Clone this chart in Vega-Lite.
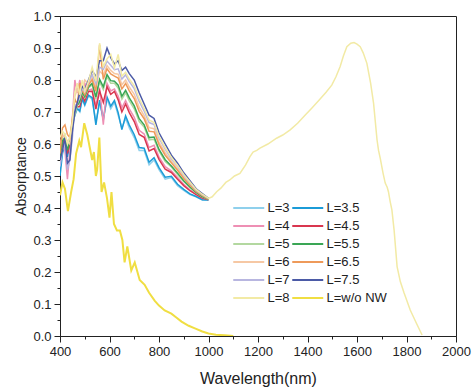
{
"$schema":"https://vega.github.io/schema/vega-lite/v6.json",
"width":396,"height":320,
"autosize":{"type":"none"},
"padding":{"left":60,"top":16,"right":16,"bottom":53},
"background":"white",
"config":{"view":{"stroke":"#222","strokeWidth":1},"font":"Liberation Sans"},
"data":{"values":[
{"s":"3","x":400,"y":0.52},{"s":"3","x":410,"y":0.58},{"s":"3","x":420,"y":0.61},{"s":"3","x":430,"y":0.57},{"s":"3","x":440,"y":0.60},{"s":"3","x":450,"y":0.65},{"s":"3","x":460,"y":0.70},{"s":"3","x":470,"y":0.71},{"s":"3","x":480,"y":0.70},{"s":"3","x":490,"y":0.74},{"s":"3","x":500,"y":0.72},{"s":"3","x":515,"y":0.75},{"s":"3","x":530,"y":0.74},{"s":"3","x":545,"y":0.67},{"s":"3","x":560,"y":0.73},{"s":"3","x":575,"y":0.68},{"s":"3","x":590,"y":0.74},{"s":"3","x":605,"y":0.71},{"s":"3","x":620,"y":0.73},{"s":"3","x":635,"y":0.69},{"s":"3","x":650,"y":0.65},{"s":"3","x":665,"y":0.68},{"s":"3","x":680,"y":0.65},{"s":"3","x":700,"y":0.62},{"s":"3","x":720,"y":0.58},{"s":"3","x":740,"y":0.58},{"s":"3","x":760,"y":0.535},{"s":"3","x":780,"y":0.55},{"s":"3","x":800,"y":0.52},{"s":"3","x":825,"y":0.49},{"s":"3","x":850,"y":0.495},{"s":"3","x":875,"y":0.47},{"s":"3","x":900,"y":0.455},{"s":"3","x":925,"y":0.442},{"s":"3","x":950,"y":0.435},{"s":"3","x":975,"y":0.425},{"s":"3","x":1000,"y":0.425},
{"s":"3.5","x":400,"y":0.50},{"s":"3.5","x":410,"y":0.57},{"s":"3.5","x":420,"y":0.60},{"s":"3.5","x":430,"y":0.56},{"s":"3.5","x":440,"y":0.60},{"s":"3.5","x":450,"y":0.66},{"s":"3.5","x":460,"y":0.69},{"s":"3.5","x":470,"y":0.711},{"s":"3.5","x":480,"y":0.703},{"s":"3.5","x":490,"y":0.742},{"s":"3.5","x":500,"y":0.723},{"s":"3.5","x":515,"y":0.753},{"s":"3.5","x":530,"y":0.745},{"s":"3.5","x":545,"y":0.66},{"s":"3.5","x":560,"y":0.737},{"s":"3.5","x":575,"y":0.675},{"s":"3.5","x":590,"y":0.747},{"s":"3.5","x":605,"y":0.718},{"s":"3.5","x":620,"y":0.736},{"s":"3.5","x":635,"y":0.698},{"s":"3.5","x":650,"y":0.645},{"s":"3.5","x":665,"y":0.688},{"s":"3.5","x":680,"y":0.659},{"s":"3.5","x":700,"y":0.629},{"s":"3.5","x":720,"y":0.589},{"s":"3.5","x":740,"y":0.587},{"s":"3.5","x":760,"y":0.543},{"s":"3.5","x":780,"y":0.557},{"s":"3.5","x":800,"y":0.526},{"s":"3.5","x":825,"y":0.496},{"s":"3.5","x":850,"y":0.499},{"s":"3.5","x":875,"y":0.474},{"s":"3.5","x":900,"y":0.458},{"s":"3.5","x":925,"y":0.444},{"s":"3.5","x":950,"y":0.436},{"s":"3.5","x":975,"y":0.426},{"s":"3.5","x":1000,"y":0.425},
{"s":"4","x":400,"y":0.55},{"s":"4","x":410,"y":0.60},{"s":"4","x":420,"y":0.58},{"s":"4","x":430,"y":0.49},{"s":"4","x":440,"y":0.58},{"s":"4","x":450,"y":0.68},{"s":"4","x":460,"y":0.80},{"s":"4","x":470,"y":0.76},{"s":"4","x":480,"y":0.80},{"s":"4","x":490,"y":0.754},{"s":"4","x":500,"y":0.79},{"s":"4","x":515,"y":0.768},{"s":"4","x":530,"y":0.772},{"s":"4","x":545,"y":0.719},{"s":"4","x":560,"y":0.776},{"s":"4","x":575,"y":0.66},{"s":"4","x":590,"y":0.789},{"s":"4","x":605,"y":0.766},{"s":"4","x":620,"y":0.772},{"s":"4","x":635,"y":0.75},{"s":"4","x":650,"y":0.713},{"s":"4","x":665,"y":0.736},{"s":"4","x":680,"y":0.71},{"s":"4","x":700,"y":0.683},{"s":"4","x":720,"y":0.643},{"s":"4","x":740,"y":0.631},{"s":"4","x":760,"y":0.589},{"s":"4","x":780,"y":0.596},{"s":"4","x":800,"y":0.56},{"s":"4","x":825,"y":0.529},{"s":"4","x":850,"y":0.516},{"s":"4","x":875,"y":0.495},{"s":"4","x":900,"y":0.474},{"s":"4","x":925,"y":0.457},{"s":"4","x":950,"y":0.444},{"s":"4","x":975,"y":0.432},{"s":"4","x":1000,"y":0.427},
{"s":"4.5","x":400,"y":0.54},{"s":"4.5","x":410,"y":0.60},{"s":"4.5","x":420,"y":0.62},{"s":"4.5","x":430,"y":0.57},{"s":"4.5","x":440,"y":0.60},{"s":"4.5","x":450,"y":0.66},{"s":"4.5","x":460,"y":0.72},{"s":"4.5","x":470,"y":0.716},{"s":"4.5","x":480,"y":0.717},{"s":"4.5","x":490,"y":0.751},{"s":"4.5","x":500,"y":0.734},{"s":"4.5","x":515,"y":0.764},{"s":"4.5","x":530,"y":0.765},{"s":"4.5","x":545,"y":0.709},{"s":"4.5","x":560,"y":0.766},{"s":"4.5","x":575,"y":0.73},{"s":"4.5","x":590,"y":0.779},{"s":"4.5","x":605,"y":0.755},{"s":"4.5","x":620,"y":0.764},{"s":"4.5","x":635,"y":0.738},{"s":"4.5","x":650,"y":0.70},{"s":"4.5","x":665,"y":0.725},{"s":"4.5","x":680,"y":0.698},{"s":"4.5","x":700,"y":0.67},{"s":"4.5","x":720,"y":0.63},{"s":"4.5","x":740,"y":0.621},{"s":"4.5","x":760,"y":0.578},{"s":"4.5","x":780,"y":0.586},{"s":"4.5","x":800,"y":0.552},{"s":"4.5","x":825,"y":0.521},{"s":"4.5","x":850,"y":0.511},{"s":"4.5","x":875,"y":0.49},{"s":"4.5","x":900,"y":0.47},{"s":"4.5","x":925,"y":0.454},{"s":"4.5","x":950,"y":0.442},{"s":"4.5","x":975,"y":0.431},{"s":"4.5","x":1000,"y":0.426},
{"s":"5","x":400,"y":0.58},{"s":"5","x":410,"y":0.62},{"s":"5","x":420,"y":0.63},{"s":"5","x":430,"y":0.60},{"s":"5","x":440,"y":0.62},{"s":"5","x":450,"y":0.67},{"s":"5","x":460,"y":0.69},{"s":"5","x":470,"y":0.72},{"s":"5","x":480,"y":0.73},{"s":"5","x":490,"y":0.76},{"s":"5","x":500,"y":0.745},{"s":"5","x":515,"y":0.775},{"s":"5","x":530,"y":0.785},{"s":"5","x":545,"y":0.74},{"s":"5","x":560,"y":0.795},{"s":"5","x":575,"y":0.77},{"s":"5","x":590,"y":0.81},{"s":"5","x":605,"y":0.79},{"s":"5","x":620,"y":0.79},{"s":"5","x":635,"y":0.775},{"s":"5","x":650,"y":0.74},{"s":"5","x":665,"y":0.76},{"s":"5","x":680,"y":0.735},{"s":"5","x":700,"y":0.71},{"s":"5","x":720,"y":0.67},{"s":"5","x":740,"y":0.653},{"s":"5","x":760,"y":0.613},{"s":"5","x":780,"y":0.615},{"s":"5","x":800,"y":0.578},{"s":"5","x":825,"y":0.545},{"s":"5","x":850,"y":0.528},{"s":"5","x":875,"y":0.505},{"s":"5","x":900,"y":0.483},{"s":"5","x":925,"y":0.464},{"s":"5","x":950,"y":0.448},{"s":"5","x":975,"y":0.435},{"s":"5","x":1000,"y":0.427},
{"s":"5.5","x":400,"y":0.56},{"s":"5.5","x":410,"y":0.61},{"s":"5.5","x":420,"y":0.62},{"s":"5.5","x":430,"y":0.58},{"s":"5.5","x":440,"y":0.61},{"s":"5.5","x":450,"y":0.66},{"s":"5.5","x":460,"y":0.71},{"s":"5.5","x":470,"y":0.721},{"s":"5.5","x":480,"y":0.733},{"s":"5.5","x":490,"y":0.762},{"s":"5.5","x":500,"y":0.748},{"s":"5.5","x":515,"y":0.778},{"s":"5.5","x":530,"y":0.79},{"s":"5.5","x":545,"y":0.747},{"s":"5.5","x":560,"y":0.802},{"s":"5.5","x":575,"y":0.779},{"s":"5.5","x":590,"y":0.817},{"s":"5.5","x":605,"y":0.798},{"s":"5.5","x":620,"y":0.796},{"s":"5.5","x":635,"y":0.784},{"s":"5.5","x":650,"y":0.749},{"s":"5.5","x":665,"y":0.768},{"s":"5.5","x":680,"y":0.744},{"s":"5.5","x":700,"y":0.719},{"s":"5.5","x":720,"y":0.679},{"s":"5.5","x":740,"y":0.66},{"s":"5.5","x":760,"y":0.62},{"s":"5.5","x":780,"y":0.622},{"s":"5.5","x":800,"y":0.583},{"s":"5.5","x":825,"y":0.551},{"s":"5.5","x":850,"y":0.531},{"s":"5.5","x":875,"y":0.509},{"s":"5.5","x":900,"y":0.485},{"s":"5.5","x":925,"y":0.466},{"s":"5.5","x":950,"y":0.449},{"s":"5.5","x":975,"y":0.436},{"s":"5.5","x":1000,"y":0.428},
{"s":"6","x":400,"y":0.60},{"s":"6","x":410,"y":0.63},{"s":"6","x":420,"y":0.62},{"s":"6","x":430,"y":0.61},{"s":"6","x":440,"y":0.60},{"s":"6","x":450,"y":0.66},{"s":"6","x":460,"y":0.75},{"s":"6","x":470,"y":0.77},{"s":"6","x":480,"y":0.745},{"s":"6","x":490,"y":0.77},{"s":"6","x":500,"y":0.80},{"s":"6","x":515,"y":0.788},{"s":"6","x":530,"y":0.808},{"s":"6","x":545,"y":0.775},{"s":"6","x":560,"y":0.828},{"s":"6","x":575,"y":0.815},{"s":"6","x":590,"y":0.845},{"s":"6","x":605,"y":0.83},{"s":"6","x":620,"y":0.82},{"s":"6","x":635,"y":0.818},{"s":"6","x":650,"y":0.785},{"s":"6","x":665,"y":0.80},{"s":"6","x":680,"y":0.778},{"s":"6","x":700,"y":0.755},{"s":"6","x":720,"y":0.715},{"s":"6","x":740,"y":0.689},{"s":"6","x":760,"y":0.651},{"s":"6","x":780,"y":0.648},{"s":"6","x":800,"y":0.606},{"s":"6","x":825,"y":0.573},{"s":"6","x":850,"y":0.546},{"s":"6","x":875,"y":0.523},{"s":"6","x":900,"y":0.496},{"s":"6","x":925,"y":0.474},{"s":"6","x":950,"y":0.454},{"s":"6","x":975,"y":0.44},{"s":"6","x":1000,"y":0.429},
{"s":"6.5","x":400,"y":0.57},{"s":"6.5","x":410,"y":0.65},{"s":"6.5","x":420,"y":0.66},{"s":"6.5","x":430,"y":0.63},{"s":"6.5","x":440,"y":0.62},{"s":"6.5","x":450,"y":0.68},{"s":"6.5","x":460,"y":0.74},{"s":"6.5","x":470,"y":0.724},{"s":"6.5","x":480,"y":0.79},{"s":"6.5","x":490,"y":0.767},{"s":"6.5","x":500,"y":0.754},{"s":"6.5","x":515,"y":0.784},{"s":"6.5","x":530,"y":0.801},{"s":"6.5","x":545,"y":0.765},{"s":"6.5","x":560,"y":0.91},{"s":"6.5","x":575,"y":0.802},{"s":"6.5","x":590,"y":0.835},{"s":"6.5","x":605,"y":0.819},{"s":"6.5","x":620,"y":0.812},{"s":"6.5","x":635,"y":0.806},{"s":"6.5","x":650,"y":0.772},{"s":"6.5","x":665,"y":0.789},{"s":"6.5","x":680,"y":0.766},{"s":"6.5","x":700,"y":0.742},{"s":"6.5","x":720,"y":0.702},{"s":"6.5","x":740,"y":0.679},{"s":"6.5","x":760,"y":0.64},{"s":"6.5","x":780,"y":0.638},{"s":"6.5","x":800,"y":0.598},{"s":"6.5","x":825,"y":0.565},{"s":"6.5","x":850,"y":0.541},{"s":"6.5","x":875,"y":0.518},{"s":"6.5","x":900,"y":0.492},{"s":"6.5","x":925,"y":0.471},{"s":"6.5","x":950,"y":0.452},{"s":"6.5","x":975,"y":0.439},{"s":"6.5","x":1000,"y":0.429},
{"s":"7","x":400,"y":0.53},{"s":"7","x":410,"y":0.58},{"s":"7","x":420,"y":0.60},{"s":"7","x":430,"y":0.52},{"s":"7","x":440,"y":0.55},{"s":"7","x":450,"y":0.62},{"s":"7","x":460,"y":0.72},{"s":"7","x":470,"y":0.727},{"s":"7","x":480,"y":0.751},{"s":"7","x":490,"y":0.774},{"s":"7","x":500,"y":0.763},{"s":"7","x":515,"y":0.793},{"s":"7","x":530,"y":0.817},{"s":"7","x":545,"y":0.789},{"s":"7","x":560,"y":0.84},{"s":"7","x":575,"y":0.833},{"s":"7","x":590,"y":0.859},{"s":"7","x":605,"y":0.846},{"s":"7","x":620,"y":0.832},{"s":"7","x":635,"y":0.835},{"s":"7","x":650,"y":0.803},{"s":"7","x":665,"y":0.816},{"s":"7","x":680,"y":0.795},{"s":"7","x":700,"y":0.773},{"s":"7","x":720,"y":0.733},{"s":"7","x":740,"y":0.703},{"s":"7","x":760,"y":0.667},{"s":"7","x":780,"y":0.661},{"s":"7","x":800,"y":0.618},{"s":"7","x":825,"y":0.584},{"s":"7","x":850,"y":0.554},{"s":"7","x":875,"y":0.53},{"s":"7","x":900,"y":0.502},{"s":"7","x":925,"y":0.479},{"s":"7","x":950,"y":0.456},{"s":"7","x":975,"y":0.442},{"s":"7","x":1000,"y":0.43},
{"s":"7.5","x":400,"y":0.55},{"s":"7.5","x":410,"y":0.58},{"s":"7.5","x":420,"y":0.62},{"s":"7.5","x":430,"y":0.54},{"s":"7.5","x":440,"y":0.55},{"s":"7.5","x":450,"y":0.64},{"s":"7.5","x":460,"y":0.70},{"s":"7.5","x":470,"y":0.73},{"s":"7.5","x":480,"y":0.76},{"s":"7.5","x":490,"y":0.78},{"s":"7.5","x":500,"y":0.77},{"s":"7.5","x":515,"y":0.80},{"s":"7.5","x":530,"y":0.83},{"s":"7.5","x":545,"y":0.81},{"s":"7.5","x":560,"y":0.86},{"s":"7.5","x":575,"y":0.86},{"s":"7.5","x":590,"y":0.90},{"s":"7.5","x":605,"y":0.87},{"s":"7.5","x":620,"y":0.85},{"s":"7.5","x":635,"y":0.86},{"s":"7.5","x":650,"y":0.83},{"s":"7.5","x":665,"y":0.84},{"s":"7.5","x":680,"y":0.82},{"s":"7.5","x":700,"y":0.80},{"s":"7.5","x":720,"y":0.76},{"s":"7.5","x":740,"y":0.725},{"s":"7.5","x":760,"y":0.69},{"s":"7.5","x":780,"y":0.68},{"s":"7.5","x":800,"y":0.635},{"s":"7.5","x":825,"y":0.60},{"s":"7.5","x":850,"y":0.565},{"s":"7.5","x":875,"y":0.54},{"s":"7.5","x":900,"y":0.51},{"s":"7.5","x":925,"y":0.485},{"s":"7.5","x":950,"y":0.46},{"s":"7.5","x":975,"y":0.445},{"s":"7.5","x":1000,"y":0.43},
{"s":"8","x":400,"y":0.62},{"s":"8","x":410,"y":0.64},{"s":"8","x":420,"y":0.63},{"s":"8","x":430,"y":0.60},{"s":"8","x":440,"y":0.62},{"s":"8","x":450,"y":0.67},{"s":"8","x":460,"y":0.76},{"s":"8","x":470,"y":0.79},{"s":"8","x":480,"y":0.754},{"s":"8","x":490,"y":0.80},{"s":"8","x":500,"y":0.765},{"s":"8","x":515,"y":0.795},{"s":"8","x":530,"y":0.84},{"s":"8","x":545,"y":0.796},{"s":"8","x":560,"y":0.915},{"s":"8","x":575,"y":0.842},{"s":"8","x":590,"y":0.866},{"s":"8","x":605,"y":0.88},{"s":"8","x":620,"y":0.838},{"s":"8","x":635,"y":0.88},{"s":"8","x":650,"y":0.812},{"s":"8","x":665,"y":0.824},{"s":"8","x":680,"y":0.803},{"s":"8","x":700,"y":0.782},{"s":"8","x":720,"y":0.742},{"s":"8","x":740,"y":0.711},{"s":"8","x":760,"y":0.675},{"s":"8","x":780,"y":0.667},{"s":"8","x":800,"y":0.624},{"s":"8","x":825,"y":0.589},{"s":"8","x":850,"y":0.558},{"s":"8","x":875,"y":0.533},{"s":"8","x":900,"y":0.505},{"s":"8","x":925,"y":0.481},{"s":"8","x":950,"y":0.458},{"s":"8","x":975,"y":0.443},{"s":"8","x":1000,"y":0.43},
{"s":"8","x":1015,"y":0.435},{"s":"8","x":1033,"y":0.451},{"s":"8","x":1050,"y":0.462},{"s":"8","x":1070,"y":0.48},{"s":"8","x":1086,"y":0.4875},{"s":"8","x":1105,"y":0.50},{"s":"8","x":1127,"y":0.508},{"s":"8","x":1150,"y":0.535},{"s":"8","x":1167,"y":0.56},{"s":"8","x":1180,"y":0.575},{"s":"8","x":1195,"y":0.58},{"s":"8","x":1208,"y":0.587},{"s":"8","x":1240,"y":0.60},{"s":"8","x":1275,"y":0.618},{"s":"8","x":1300,"y":0.628},{"s":"8","x":1330,"y":0.644},{"s":"8","x":1360,"y":0.665},{"s":"8","x":1390,"y":0.69},{"s":"8","x":1417,"y":0.712},{"s":"8","x":1450,"y":0.74},{"s":"8","x":1475,"y":0.762},{"s":"8","x":1498,"y":0.784},{"s":"8","x":1515,"y":0.81},{"s":"8","x":1532,"y":0.842},{"s":"8","x":1545,"y":0.875},{"s":"8","x":1559,"y":0.904},{"s":"8","x":1575,"y":0.915},{"s":"8","x":1588,"y":0.917},{"s":"8","x":1600,"y":0.912},{"s":"8","x":1613,"y":0.904},{"s":"8","x":1625,"y":0.885},{"s":"8","x":1640,"y":0.852},{"s":"8","x":1655,"y":0.79},{"s":"8","x":1667,"y":0.727},{"s":"8","x":1681,"y":0.6125},{"s":"8","x":1687,"y":0.58},{"s":"8","x":1694,"y":0.555},{"s":"8","x":1705,"y":0.51},{"s":"8","x":1714,"y":0.478},{"s":"8","x":1722,"y":0.465},{"s":"8","x":1727,"y":0.451},{"s":"8","x":1734,"y":0.42},{"s":"8","x":1741,"y":0.394},{"s":"8","x":1750,"y":0.33},{"s":"8","x":1762,"y":0.217},{"s":"8","x":1775,"y":0.17},{"s":"8","x":1790,"y":0.135},{"s":"8","x":1815,"y":0.081},{"s":"8","x":1840,"y":0.04},{"s":"8","x":1863,"y":0.003},
{"s":"w/o NW","x":400,"y":0.44},{"s":"w/o NW","x":410,"y":0.48},{"s":"w/o NW","x":420,"y":0.46},{"s":"w/o NW","x":432,"y":0.39},{"s":"w/o NW","x":445,"y":0.45},{"s":"w/o NW","x":455,"y":0.49},{"s":"w/o NW","x":465,"y":0.57},{"s":"w/o NW","x":478,"y":0.61},{"s":"w/o NW","x":485,"y":0.59},{"s":"w/o NW","x":498,"y":0.665},{"s":"w/o NW","x":510,"y":0.63},{"s":"w/o NW","x":520,"y":0.59},{"s":"w/o NW","x":530,"y":0.55},{"s":"w/o NW","x":537,"y":0.575},{"s":"w/o NW","x":545,"y":0.50},{"s":"w/o NW","x":550,"y":0.52},{"s":"w/o NW","x":559,"y":0.62},{"s":"w/o NW","x":568,"y":0.45},{"s":"w/o NW","x":578,"y":0.48},{"s":"w/o NW","x":590,"y":0.43},{"s":"w/o NW","x":600,"y":0.37},{"s":"w/o NW","x":608,"y":0.45},{"s":"w/o NW","x":618,"y":0.35},{"s":"w/o NW","x":630,"y":0.33},{"s":"w/o NW","x":642,"y":0.33},{"s":"w/o NW","x":652,"y":0.30},{"s":"w/o NW","x":661,"y":0.23},{"s":"w/o NW","x":672,"y":0.28},{"s":"w/o NW","x":688,"y":0.205},{"s":"w/o NW","x":702,"y":0.23},{"s":"w/o NW","x":722,"y":0.175},{"s":"w/o NW","x":742,"y":0.16},{"s":"w/o NW","x":760,"y":0.135},{"s":"w/o NW","x":783,"y":0.11},{"s":"w/o NW","x":800,"y":0.095},{"s":"w/o NW","x":823,"y":0.08},{"s":"w/o NW","x":850,"y":0.07},{"s":"w/o NW","x":870,"y":0.058},{"s":"w/o NW","x":891,"y":0.045},{"s":"w/o NW","x":920,"y":0.032},{"s":"w/o NW","x":945,"y":0.024},{"s":"w/o NW","x":975,"y":0.014},{"s":"w/o NW","x":1000,"y":0.008},{"s":"w/o NW","x":1030,"y":0.004},{"s":"w/o NW","x":1066,"y":0.002},{"s":"w/o NW","x":1100,"y":0.0}
]},
"mark":{"type":"line","clip":true},
"encoding":{
"x":{"field":"x","type":"quantitative","scale":{"domain":[400,2000],"nice":false},
 "axis":{"title":"Wavelength(nm)","values":[400,500,600,700,800,900,1000,1100,1200,1300,1400,1500,1600,1700,1800,1900,2000],
  "labelExpr":"datum.value % 200 === 0 ? datum.label : ''","format":"d",
  "tickSize":{"condition":{"test":"datum.value % 200 === 0","value":6},"value":3},
  "grid":false,"domainColor":"#222","tickColor":"#222","labelColor":"#222","labelFontSize":13,"labelPadding":3,"labelFlush":false,
  "titleFontSize":16,"titleFontWeight":"normal","titleColor":"#222","titlePadding":12}},
"y":{"field":"y","type":"quantitative","scale":{"domain":[0,1],"nice":false},
 "axis":{"title":"Absorptance","values":[0,0.05,0.1,0.15,0.2,0.25,0.3,0.35,0.4,0.45,0.5,0.55,0.6,0.65,0.7,0.75,0.8,0.85,0.9,0.95,1.0],
  "labelExpr":"round(datum.value*100) % 10 === 0 ? format(datum.value, '.1f') : ''",
  "tickSize":{"condition":{"test":"round(datum.value*100) % 10 === 0","value":6},"value":3},
  "grid":false,"domainColor":"#222","tickColor":"#222","labelColor":"#222","labelFontSize":13,"labelPadding":3,"labelFlush":false,
  "titleFontSize":14,"titleFontWeight":"normal","titleColor":"#222","titlePadding":4}},
"strokeWidth":{"condition":{"test":"datum.s === 'w/o NW'","value":2},"value":1.5},
"color":{"field":"s","type":"nominal",
 "scale":{"domain":["3","3.5","4","4.5","5","5.5","6","6.5","7","7.5","8","w/o NW"],
  "range":["#8fd0ec","#1b9bd7","#ee8fb4","#d9364f","#b3d8a0","#3aa655","#f6c8a4","#ee9a5a","#b8b6e0","#4b5aa6","#f2eaa5","#f0de42"]},
 "legend":{"orient":"none","legendX":172,"legendY":183,"columns":2,"direction":"horizontal","title":null,"symbolType":"M-1,0H3","symbolSize":240,"symbolStrokeWidth":2,
  "labelFontSize":13,"labelColor":"#222","labelOffset":17.5,"columnPadding":-2,"rowPadding":2,"labelExpr":"'L=' + datum.label"}}
}
}
